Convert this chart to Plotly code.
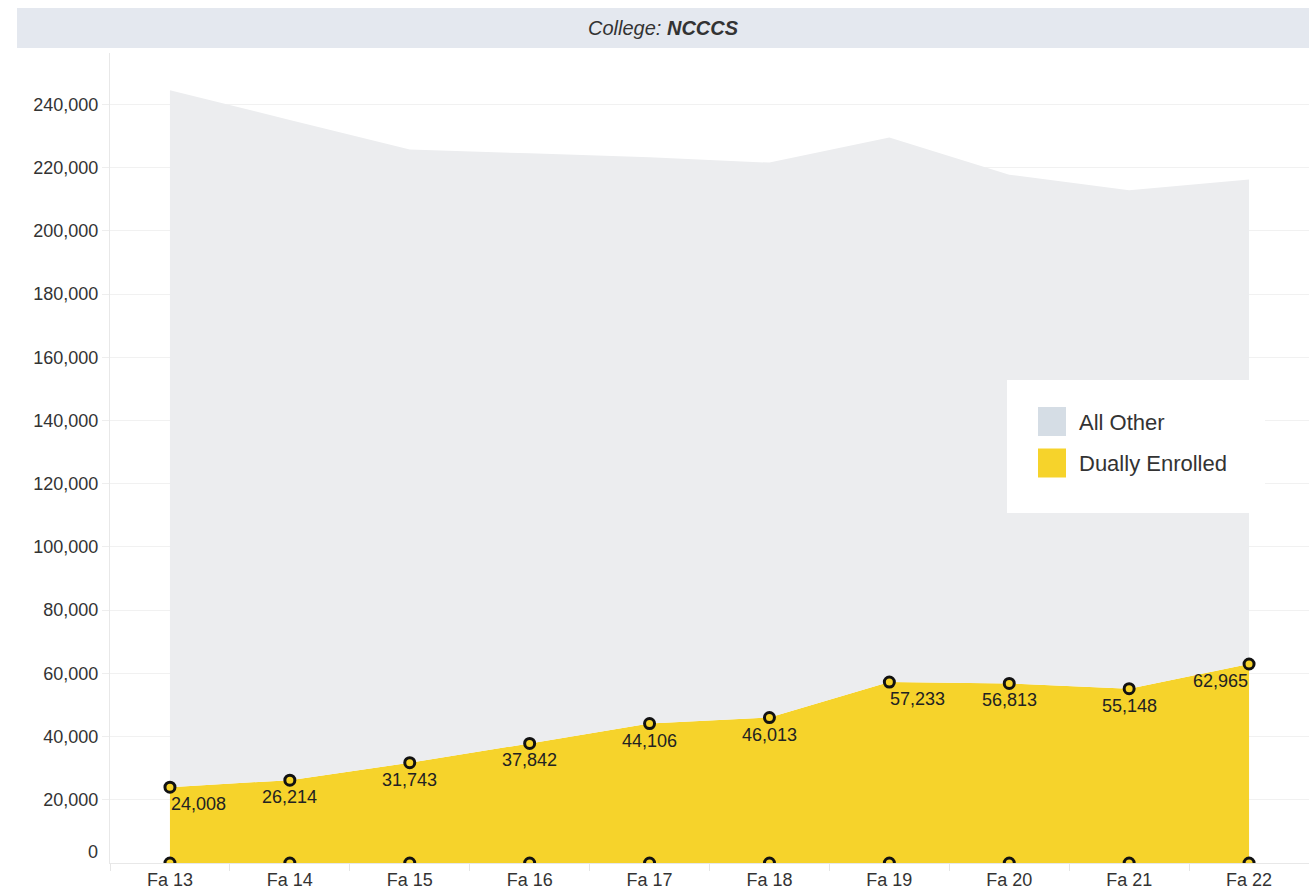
import plotly.graph_objects as go

# Fall enrollment by term, North Carolina Community College System
terms = ["Fa 13", "Fa 14", "Fa 15", "Fa 16", "Fa 17", "Fa 18", "Fa 19", "Fa 20", "Fa 21", "Fa 22"]
dually_enrolled = [24008, 26214, 31743, 37842, 44106, 46013, 57233, 56813, 55148, 62965]
all_other = [220500, 208900, 194000, 186700, 179200, 175600, 172300, 161000, 157700, 153300]
baseline = [0] * len(terms)

# horizontal anchoring of each value label relative to its marker
label_anchor = ["left", "center", "center", "center", "center",
                "center", "left", "center", "center", "right"]

y_tick_values = [20000, 40000, 60000, 80000, 100000, 120000, 140000, 160000, 180000, 200000, 220000, 240000]
y_tick_labels = ["20,000", "40,000", "60,000", "80,000", "100,000", "120,000", "140,000", "160,000",
                 "180,000", "200,000", "220,000", "240,000"]

series_names = ["All Other", "Dually Enrolled"]
series_swatches = ["#d5dde5", "#f6d32b"]

YELLOW = "#f6d32b"
GREY_AREA = "#ecedef"
FONT = "Liberation Sans, Arial, sans-serif"

W, H = 1309, 893
M_L, M_R, M_T, M_B = 110, 0, 53, 30
PLOT_W = W - M_L - M_R
PLOT_H = H - M_T - M_B


def px_x(x):
    return (x - M_L) / PLOT_W


def px_y(y):
    return (H - M_B - y) / PLOT_H


fig = go.Figure()

fig.add_trace(go.Scatter(
    x=terms, y=dually_enrolled, stackgroup="enroll", mode="none",
    fillcolor=YELLOW, line=dict(width=0), showlegend=False, name="Dually Enrolled",
))
fig.add_trace(go.Scatter(
    x=terms, y=all_other, stackgroup="enroll", mode="none",
    fillcolor=GREY_AREA, line=dict(width=0), showlegend=False, name="All Other",
))

marker_style = dict(size=10, color=YELLOW, line=dict(color="#111111", width=3))

# circles along the base of the yellow area (clipped by the plot frame)
fig.add_trace(go.Scatter(
    x=terms, y=baseline, mode="markers", marker=marker_style,
    showlegend=False, hoverinfo="skip", cliponaxis=True,
))

# value markers
fig.add_trace(go.Scatter(
    x=terms, y=dually_enrolled, mode="markers", marker=marker_style,
    showlegend=False, cliponaxis=False, name="Dually Enrolled",
))

shapes = [
    # header band
    dict(type="rect", xref="paper", yref="paper",
         x0=px_x(17), x1=px_x(1309), y0=px_y(48), y1=px_y(8),
         fillcolor="#e4e8ef", line=dict(width=0), layer="above"),
    # legend panel
    dict(type="rect", xref="paper", yref="paper",
         x0=px_x(1007), x1=px_x(1265), y0=px_y(513), y1=px_y(380),
         fillcolor="white", line=dict(width=0), layer="above"),
]

annotations = [
    dict(text="<i>College: <b>NCCCS</b></i>", xref="paper", yref="paper",
         x=px_x(663), y=px_y(28), xanchor="center", yanchor="middle", showarrow=False,
         font=dict(family=FONT, size=20, color="#333333")),
    dict(text="0", xref="paper", yref="y", x=px_x(100), y=0, yshift=11,
         xanchor="right", yanchor="middle", showarrow=False,
         font=dict(family=FONT, size=18, color="#333333")),
]

# value labels under each marker
for term, val, anchor in zip(terms, dually_enrolled, label_anchor):
    annotations.append(dict(
        text=f"{val:,}", x=term, y=val, xref="x", yref="y",
        xanchor=anchor, yanchor="middle", yshift=-17, xshift=0,
        showarrow=False, borderpad=0,
        font=dict(family=FONT, size=18, color="#222222"),
    ))

# legend entries
for i, (name, col) in enumerate(zip(series_names, series_swatches)):
    top = 407 + i * 41.5
    shapes.append(dict(type="rect", xref="paper", yref="paper",
                       x0=px_x(1038), x1=px_x(1066), y0=px_y(top + 29), y1=px_y(top),
                       fillcolor=col, line=dict(width=0), layer="above"))
    annotations.append(dict(text=name, xref="paper", yref="paper",
                            x=px_x(1077), y=px_y(top + 15), xanchor="left", yanchor="middle",
                            showarrow=False, font=dict(family=FONT, size=22, color="#333333")))

fig.update_layout(
    width=W, height=H,
    margin=dict(l=M_L, r=M_R, t=M_T, b=M_B),
    paper_bgcolor="white", plot_bgcolor="white",
    font=dict(family=FONT, size=18, color="#333333"),
    showlegend=False,
    shapes=shapes, annotations=annotations,
    xaxis=dict(
        type="category", categoryorder="array", categoryarray=terms,
        range=[-0.5, len(terms) - 0.5], tickson="boundaries",
        ticks="outside", ticklen=7, tickcolor="#e6e6e6",
        showline=True, linecolor="#e8e8e8", linewidth=1,
        showgrid=False, zeroline=False,
        tickfont=dict(family=FONT, size=18, color="#333333"),
    ),
    yaxis=dict(
        range=[0, 256300],
        tickvals=y_tick_values, ticktext=y_tick_labels,
        ticks="outside", ticklen=7, tickcolor="#eeeeee",
        showgrid=True, gridcolor="#f1f1f1", gridwidth=1,
        showline=True, linecolor="#e8e8e8", linewidth=1,
        zeroline=False,
        tickfont=dict(family=FONT, size=18, color="#333333"),
    ),
)

fig.write_html("out.html")
